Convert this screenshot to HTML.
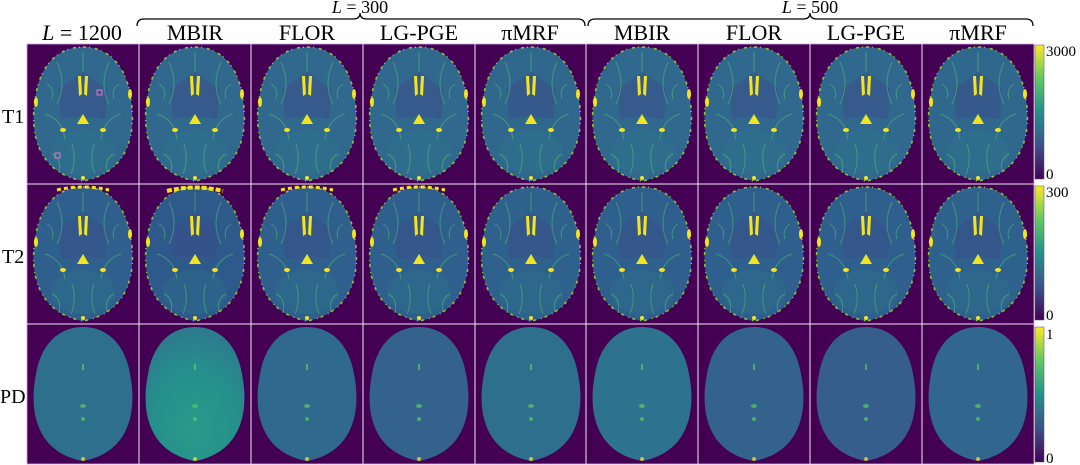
<!DOCTYPE html>
<html><head><style>
html,body{margin:0;padding:0;background:#fff;}
svg{display:block;font-family:"Liberation Serif",serif;}
</style></head><body>
<svg width="1080" height="465" viewBox="0 0 1080 465" xmlns="http://www.w3.org/2000/svg">
<defs>
<linearGradient id="vir" x1="0" y1="1" x2="0" y2="0">
<stop offset="0" stop-color="#440154"/><stop offset="0.25" stop-color="#3b528b"/><stop offset="0.5" stop-color="#21918c"/><stop offset="0.75" stop-color="#5ec962"/><stop offset="1" stop-color="#fde725"/>
</linearGradient>
<radialGradient id="mbpd" cx="0.5" cy="0.75" r="0.7">
<stop offset="0" stop-color="#2a9a8a"/><stop offset="0.6" stop-color="#25908c"/><stop offset="1" stop-color="#2c7c8e"/>
</radialGradient>
<path id="brain" d="M56,3 C80,3 98,20 103,50 C110,85 104,128 56,137 C8,128 2,85 9,50 C14,20 32,3 56,3Z"/>
<g id="inner">
<path d="M56,28 L80,45 L78,75 L56,72 L34,75 L32,45 Z" fill="#3b4f8a" opacity="0.55"/>
<ellipse cx="56" cy="108" rx="32" ry="22" fill="#2c7a8c" opacity="0.3"/>
</g>
<g id="feat" fill="#f2e51d">
<path d="M51,32 L54,32 L55,50 L52,52 Z"/><path d="M58,32 L61,32 L60,52 L57,50 Z"/>
<path d="M56,70 L62,80 L50,80 Z"/>
<ellipse cx="36" cy="86" rx="3" ry="2"/><ellipse cx="76" cy="86" rx="3" ry="2"/>
<ellipse cx="103" cy="50" rx="2" ry="5"/><ellipse cx="9" cy="58" rx="2" ry="5"/>
<circle cx="56" cy="134" r="2"/>
</g>
<g id="edge">
<use href="#brain" fill="none" stroke="#9fd93a" stroke-width="1.6" stroke-dasharray="3 3 1 5" opacity="0.85"/>
<g fill="none" stroke="#4fb87a" stroke-width="1" opacity="0.6">
<path d="M30,18 Q40,40 30,60 M82,18 Q72,40 82,60 M18,70 Q35,75 38,95 M94,70 Q77,75 74,95 M45,100 Q50,115 44,130 M67,100 Q62,115 68,130 M56,8 L56,28 M20,40 Q28,45 25,55 M92,40 Q84,45 87,55 M25,110 Q35,115 32,128 M87,110 Q77,115 80,128"/>
</g>
</g>
<g id="pdf" fill="#5ec962" opacity="0.7">
<rect x="55" y="40" width="2" height="6"/><ellipse cx="56" cy="82" rx="3" ry="2"/><ellipse cx="56" cy="95" rx="2" ry="2"/><circle cx="56" cy="135" r="2" fill="#fde725"/>
</g>
</defs>
<rect x="27" y="44" width="1007" height="420" fill="#440154"/>
<!-- Row T1 -->
<g transform="translate(27,44)"><use href="#brain" fill="#31688e"/><use href="#inner"/><use href="#edge"/><use href="#feat"/><rect x="70" y="46" width="5" height="5" fill="none" stroke="#e377c2" stroke-width="1"/><rect x="28" y="109" width="5" height="5" fill="none" stroke="#e377c2" stroke-width="1"/></g>
<g transform="translate(139,44)"><use href="#brain" fill="#31688e"/><use href="#inner"/><use href="#edge"/><use href="#feat"/></g>
<g transform="translate(251,44)"><use href="#brain" fill="#31688e"/><use href="#inner"/><use href="#edge"/><use href="#feat"/></g>
<g transform="translate(363,44)"><use href="#brain" fill="#31688e"/><use href="#inner"/><use href="#edge"/><use href="#feat"/></g>
<g transform="translate(475,44)"><use href="#brain" fill="#30678d"/><use href="#inner"/><use href="#edge"/><use href="#feat"/></g>
<g transform="translate(586,44)"><use href="#brain" fill="#31688e"/><use href="#inner"/><use href="#edge"/><use href="#feat"/></g>
<g transform="translate(698,44)"><use href="#brain" fill="#31688e"/><use href="#inner"/><use href="#edge"/><use href="#feat"/></g>
<g transform="translate(810,44)"><use href="#brain" fill="#31688e"/><use href="#inner"/><use href="#edge"/><use href="#feat"/></g>
<g transform="translate(922,44)"><use href="#brain" fill="#30678d"/><use href="#inner"/><use href="#edge"/><use href="#feat"/></g>
<!-- Row T2 -->
<g transform="translate(27,184)"><use href="#brain" fill="#2f5f8c"/><use href="#inner"/><use href="#edge"/><use href="#feat"/><path d="M30,6 Q56,0 82,6" stroke="#f2e51d" stroke-width="3" fill="none" stroke-dasharray="4 3"/></g>
<g transform="translate(139,184)"><use href="#brain" fill="#2e5a8b"/><use href="#inner"/><use href="#edge"/><use href="#feat"/><path d="M28,7 Q56,0 84,7" stroke="#f2e51d" stroke-width="4" fill="none" stroke-dasharray="5 2"/></g>
<g transform="translate(251,184)"><use href="#brain" fill="#2f5f8c"/><use href="#inner"/><use href="#edge"/><use href="#feat"/><path d="M30,6 Q56,0 82,6" stroke="#f2e51d" stroke-width="3" fill="none" stroke-dasharray="4 3"/></g>
<g transform="translate(363,184)"><use href="#brain" fill="#2f5f8c"/><use href="#inner"/><use href="#edge"/><use href="#feat"/><path d="M30,6 Q56,0 82,6" stroke="#f2e51d" stroke-width="3" fill="none" stroke-dasharray="4 3"/></g>
<g transform="translate(475,184)"><use href="#brain" fill="#2f618d"/><use href="#inner"/><use href="#edge"/><use href="#feat"/></g>
<g transform="translate(586,184)"><use href="#brain" fill="#2f5f8c"/><use href="#inner"/><use href="#edge"/><use href="#feat"/></g>
<g transform="translate(698,184)"><use href="#brain" fill="#2f5f8c"/><use href="#inner"/><use href="#edge"/><use href="#feat"/></g>
<g transform="translate(810,184)"><use href="#brain" fill="#2f5f8c"/><use href="#inner"/><use href="#edge"/><use href="#feat"/></g>
<g transform="translate(922,184)"><use href="#brain" fill="#2f618d"/><use href="#inner"/><use href="#edge"/><use href="#feat"/></g>
<!-- Row PD -->
<g transform="translate(27,324)"><use href="#brain" fill="#2f6f8e"/><use href="#pdf"/></g>
<g transform="translate(139,324)"><use href="#brain" fill="url(#mbpd)"/><use href="#pdf"/></g>
<g transform="translate(251,324)"><use href="#brain" fill="#30698e"/><use href="#pdf"/></g>
<g transform="translate(363,324)"><use href="#brain" fill="#33638d"/><use href="#pdf"/></g>
<g transform="translate(475,324)"><use href="#brain" fill="#2e6f8e"/><use href="#pdf"/></g>
<g transform="translate(586,324)"><use href="#brain" fill="#2d728e"/><use href="#pdf"/></g>
<g transform="translate(698,324)"><use href="#brain" fill="#33638d"/><use href="#pdf"/></g>
<g transform="translate(810,324)"><use href="#brain" fill="#355e8d"/><use href="#pdf"/></g>
<g transform="translate(922,324)"><use href="#brain" fill="#31668e"/><use href="#pdf"/></g>
<!-- grid lines -->
<g stroke="#f0e6f0" stroke-width="1">
<line x1="139" y1="44" x2="139" y2="464"/><line x1="251" y1="44" x2="251" y2="464"/><line x1="363" y1="44" x2="363" y2="464"/><line x1="475" y1="44" x2="475" y2="464"/><line x1="586" y1="44" x2="586" y2="464"/><line x1="698" y1="44" x2="698" y2="464"/><line x1="810" y1="44" x2="810" y2="464"/><line x1="922" y1="44" x2="922" y2="464"/>
<line x1="27" y1="184" x2="1034" y2="184"/><line x1="27" y1="324" x2="1034" y2="324"/>
</g>
<rect x="27" y="44" width="1007" height="420" fill="none" stroke="#d9a0e0" stroke-width="0.8"/>
<!-- colorbars -->
<rect x="1035" y="45" width="9" height="134" fill="url(#vir)" stroke="#555" stroke-width="0.5"/>
<rect x="1035" y="186" width="9" height="134" fill="url(#vir)" stroke="#555" stroke-width="0.5"/>
<rect x="1035" y="327" width="9" height="135" fill="url(#vir)" stroke="#555" stroke-width="0.5"/>
<g font-size="15" fill="#000">
<text x="1046" y="56">3000</text><text x="1046" y="179">0</text>
<text x="1046" y="197">300</text><text x="1046" y="320">0</text>
<text x="1046" y="339">1</text><text x="1046" y="463">0</text>
</g>
<!-- headers -->
<g font-size="22" fill="#000" text-anchor="middle">
<text x="82" y="40"><tspan font-style="italic">L</tspan> = 1200</text>
<text x="195" y="40">MBIR</text><text x="307" y="40">FLOR</text><text x="419" y="40">LG-PGE</text><text x="530" y="40">πMRF</text>
<text x="642" y="40">MBIR</text><text x="754" y="40">FLOR</text><text x="866" y="40">LG-PGE</text><text x="978" y="40">πMRF</text>
<text x="360" y="13" font-size="18"><tspan font-style="italic">L</tspan> = 300</text>
<text x="810" y="13" font-size="18"><tspan font-style="italic">L</tspan> = 500</text>
</g>
<g fill="none" stroke="#000" stroke-width="1.3">
<path d="M137,26 Q137,19 144,19 L353,19 Q360,19 360,13 Q360,19 367,19 L578,19 Q585,19 585,26"/>
<path d="M588,26 Q588,19 595,19 L803,19 Q810,19 810,13 Q810,19 817,19 L1026,19 Q1033,19 1033,26"/>
</g>
<g font-size="20" fill="#000">
<text x="2" y="123">T1</text><text x="2" y="263">T2</text><text x="0" y="403">PD</text>
</g>
</svg>
</body></html>
